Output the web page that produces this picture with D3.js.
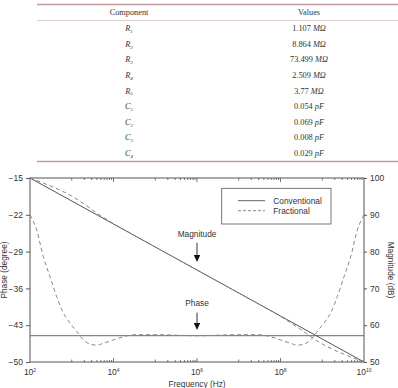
<!DOCTYPE html>
<html>
<head>
<meta charset="utf-8">
<script src="https://cdn.jsdelivr.net/npm/d3@7"></script>
<style>
  body { margin: 0; background: #fff; }
  svg { display: block; }
  .tick text { font-family: "Liberation Sans", Arial, sans-serif; }
</style>
</head>
<body>
<svg id="chart" width="398" height="388"></svg>
<script>
// table
var components = [["R","1"],["R","2"],["R","3"],["R","4"],["R","5"],["C","1"],["C","2"],["C","3"],["C","4"]];
var compValues = ["1.107","8.864","73.499","2.509","3.77","0.054","0.069","0.008","0.029"];
var compUnits = ["MΩ","MΩ","MΩ","MΩ","MΩ","pF","pF","pF","pF"];

// chart data, frequency given as exponent of 10
var magConvExp = [2, 10];
var magConv = [100, 50];
var magFracExp = [2.0, 2.3, 2.7, 3.0, 3.3, 3.6, 4.0, 4.5, 6.0, 7.5, 8.0, 8.4, 8.7, 9.0, 9.3, 9.7, 10.0];
var magFrac = [100, 98.7, 96.8, 95.1, 92.9, 90.5, 87.6, 84.4, 75.0, 65.6, 62.4, 59.5, 57.1, 54.9, 53.2, 51.3, 50.0];
var phaseConvExp = [2, 10];
var phaseConv = [-45, -45];
var phaseFracExp = [2.0, 2.16, 2.32, 2.48, 2.64, 2.80, 2.96, 3.12, 3.28, 3.44, 3.60, 3.77, 4.0, 4.23, 4.56, 5.0, 6.0,
                    7.0, 7.44, 7.77, 8.0, 8.23, 8.40, 8.56, 8.72, 8.88, 9.04, 9.20, 9.36, 9.52, 9.68, 9.84, 10.0];
var phaseFrac = [-22.0, -24.9, -30.0, -33.8, -37.6, -40.7, -42.6, -44.2, -45.8, -46.6, -46.8, -46.4, -45.8, -45.2, -44.8, -44.8, -45.0,
                 -44.8, -44.8, -45.2, -45.8, -46.4, -46.8, -46.6, -45.8, -44.2, -42.6, -40.7, -37.6, -33.8, -30.0, -24.9, -22.0];

var phaseTicks = [-15, -22, -29, -36, -43, -50];
var magTicks = [100, 90, 80, 70, 60, 50];
var freqTickExp = [2, 4, 6, 8, 10];

var svg = d3.select("#chart");
var serif = "'Liberation Serif', 'Times New Roman', serif";
var sans = "'Liberation Sans', Arial, sans-serif";

// ---- table ----
var tLeft = 37, tRight = 398;
var rowY = d3.scaleLinear().domain([0, 8]).range([31.3, 156]);
var col1 = 129, col2 = 309;

svg.append("line").attr("x1", tLeft).attr("x2", tRight).attr("y1", 4.5).attr("y2", 4.5)
   .attr("stroke", "#c29aa2").attr("stroke-width", 1.3);
svg.append("line").attr("x1", tLeft).attr("x2", tRight).attr("y1", 20.5).attr("y2", 20.5)
   .attr("stroke", "#e2cdd1").attr("stroke-width", 1);
svg.append("line").attr("x1", tLeft).attr("x2", tRight).attr("y1", 161.5).attr("y2", 161.5)
   .attr("stroke", "#c29aa2").attr("stroke-width", 1.3);

svg.append("text").attr("x", col1).attr("y", 15.3).attr("text-anchor", "middle")
   .attr("font-family", serif).attr("font-size", 8.3).attr("fill", "#333").text("Component");
svg.append("text").attr("x", col2).attr("y", 15.3).attr("text-anchor", "middle")
   .attr("font-family", serif).attr("font-size", 8.3).attr("fill", "#333").text("Values");

var c1 = svg.selectAll(".comp").data(components).enter().append("text")
   .attr("class", "comp")
   .attr("x", col1).attr("y", function(d, i) { return rowY(i); })
   .attr("text-anchor", "middle")
   .attr("font-family", serif).attr("font-size", 8.3).attr("fill", "#333");
c1.append("tspan").attr("font-style", "italic").text(function(d) { return d[0]; });
c1.append("tspan").attr("font-size", 5).attr("dy", 1.8).attr("font-style", "italic").text(function(d) { return d[1]; });

var c2 = svg.selectAll(".val").data(compValues).enter().append("text")
   .attr("class", "val")
   .attr("x", col2).attr("y", function(d, i) { return rowY(i); })
   .attr("text-anchor", "middle")
   .attr("font-family", serif).attr("font-size", 8.3).attr("fill", "#333");
c2.append("tspan").text(function(d) { return d + " "; });
c2.append("tspan").attr("font-style", "italic").text(function(d, i) { return compUnits[i]; });

// ---- chart ----
var pLeft = 30, pRight = 364, pTop = 178, pBottom = 362;
var axisColor = "#555";

var x = d3.scaleLog().domain([1e2, 1e10]).range([pLeft, pRight]);
var yP = d3.scaleLinear().domain([-50, -15]).range([pBottom, pTop]);
var yM = d3.scaleLinear().domain([50, 100]).range([pBottom, pTop]);

// minor ticks on x (top and bottom, inward)
var minor = [];
for (var e = 2; e < 10; e++) {
  if (e % 2 == 1) {
    for (var k = 1; k <= 9; k++) minor.push({v: k * Math.pow(10, e), len: k == 1 ? 2.5 : 2});
  } else if (e > 2) {
    minor.push({v: Math.pow(10, e), len: 4});
  }
}
svg.selectAll(".mb").data(minor).enter().append("line")
   .attr("x1", function(d) { return x(d.v); }).attr("x2", function(d) { return x(d.v); })
   .attr("y1", pBottom).attr("y2", function(d) { return pBottom - d.len; })
   .attr("stroke", axisColor).attr("stroke-width", 0.8);
svg.selectAll(".mt").data(minor).enter().append("line")
   .attr("x1", function(d) { return x(d.v); }).attr("x2", function(d) { return x(d.v); })
   .attr("y1", pTop).attr("y2", function(d) { return pTop + d.len; })
   .attr("stroke", axisColor).attr("stroke-width", 0.8);

// x labels
var xl = svg.selectAll(".xl").data(freqTickExp).enter().append("text")
   .attr("x", function(d) { return x(Math.pow(10, d)); }).attr("y", 375)
   .attr("text-anchor", "middle").attr("font-family", sans).attr("font-size", 8.5).attr("fill", "#333");
xl.append("tspan").text("10");
xl.append("tspan").attr("font-size", 5).attr("dy", -3.5).text(function(d) { return d; });

svg.append("text").attr("x", x(1e6)).attr("y", 387).attr("text-anchor", "middle")
   .attr("font-family", sans).attr("font-size", 8.3).attr("fill", "#333").text("Frequency (Hz)");

// left axis
var gl = svg.append("g").attr("transform", "translate(" + pLeft + ",0)")
   .call(d3.axisLeft(yP).tickValues(phaseTicks).tickSize(4).tickPadding(3));
gl.selectAll("text").attr("font-size", 8.5).attr("fill", "#333");
gl.selectAll("line").attr("stroke", axisColor);
gl.select(".domain").remove();

// right axis
var gr = svg.append("g").attr("transform", "translate(" + pRight + ",0)")
   .call(d3.axisRight(yM).tickValues(magTicks).tickSize(3).tickPadding(3));
gr.selectAll("text").attr("font-size", 8.5).attr("fill", "#333");
gr.selectAll("line").attr("stroke", axisColor);
gr.select(".domain").remove();

svg.append("rect").attr("x", pLeft).attr("y", pTop).attr("width", pRight - pLeft).attr("height", pBottom - pTop)
   .attr("fill", "none").attr("stroke", axisColor).attr("stroke-width", 1);

svg.append("text").attr("transform", "translate(7," + (pTop + pBottom) / 2 + ") rotate(-90)")
   .attr("text-anchor", "middle").attr("font-family", sans).attr("font-size", 8.3).attr("fill", "#333")
   .text("Phase (degree)");
svg.append("text").attr("transform", "translate(388," + (pTop + pBottom) / 2 + ") rotate(90)")
   .attr("text-anchor", "middle").attr("font-family", sans).attr("font-size", 8.3).attr("fill", "#333")
   .text("Magnitude (dB)");

// curves
function series(exps, vals) {
  return exps.map(function(e, i) { return [Math.pow(10, e), vals[i]]; });
}
var lineM = d3.line().x(function(d) { return x(d[0]); }).y(function(d) { return yM(d[1]); }).curve(d3.curveMonotoneX);
var lineP = d3.line().x(function(d) { return x(d[0]); }).y(function(d) { return yP(d[1]); }).curve(d3.curveMonotoneX);

svg.append("path").datum(series(phaseConvExp, phaseConv)).attr("d", lineP)
   .attr("fill", "none").attr("stroke", "#666").attr("stroke-width", 1);
svg.append("path").datum(series(magConvExp, magConv)).attr("d", lineM)
   .attr("fill", "none").attr("stroke", "#555").attr("stroke-width", 1);
svg.append("path").datum(series(phaseFracExp, phaseFrac)).attr("d", lineP)
   .attr("fill", "none").attr("stroke", "#888").attr("stroke-width", 1).attr("stroke-dasharray", "4,3");
svg.append("path").datum(series(magFracExp, magFrac)).attr("d", lineM)
   .attr("fill", "none").attr("stroke", "#888").attr("stroke-width", 1).attr("stroke-dasharray", "4,3");

// annotations
function arrow(label, textDb, fromDb, tipDb) {
  var ax = x(1e6);
  svg.append("text").attr("x", ax).attr("y", yM(textDb)).attr("text-anchor", "middle")
     .attr("font-family", sans).attr("font-size", 8.3).attr("fill", "#333").text(label);
  svg.append("line").attr("x1", ax).attr("x2", ax).attr("y1", yM(fromDb)).attr("y2", yM(tipDb) - 6)
     .attr("stroke", "#333").attr("stroke-width", 1);
  var ty = yM(tipDb);
  svg.append("path").attr("d", "M" + (ax - 3.2) + "," + (ty - 7) + "L" + (ax + 3.2) + "," + (ty - 7) + "L" + ax + "," + ty + "Z")
     .attr("fill", "#111");
}
arrow("Magnitude", 84.1, 82.4, 77.2);
arrow("Phase", 65.1, 63.4, 58.7);

// legend
var lg = svg.append("g");
lg.append("rect").attr("x", 221.7).attr("y", 188.3).attr("width", 109.3).attr("height", 35.7)
  .attr("fill", "#fff").attr("stroke", axisColor).attr("stroke-width", 0.8);
lg.append("line").attr("x1", 238).attr("x2", 265).attr("y1", 200.7).attr("y2", 200.7)
  .attr("stroke", "#666").attr("stroke-width", 1);
lg.append("line").attr("x1", 238).attr("x2", 265).attr("y1", 210.7).attr("y2", 210.7)
  .attr("stroke", "#888").attr("stroke-width", 1).attr("stroke-dasharray", "3,2");
lg.append("text").attr("x", 273.3).attr("y", 203.7).attr("font-family", sans).attr("font-size", 8.3)
  .attr("fill", "#333").text("Conventional");
lg.append("text").attr("x", 273.3).attr("y", 213.7).attr("font-family", sans).attr("font-size", 8.3)
  .attr("fill", "#333").text("Fractional");
</script>
</body>
</html>
